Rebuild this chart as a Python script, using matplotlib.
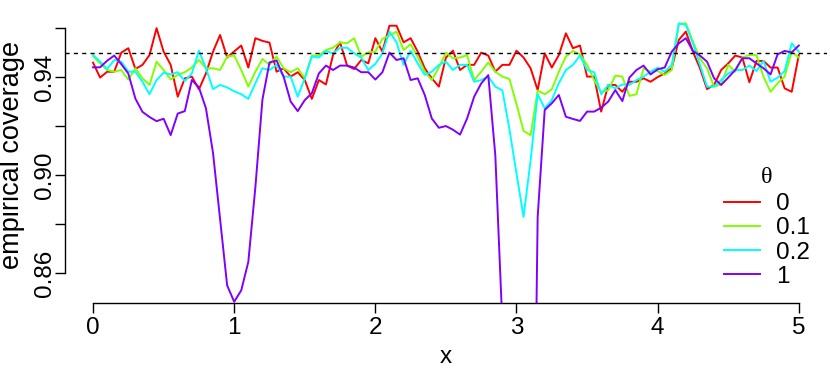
import numpy as np
import matplotlib.pyplot as plt

plt.rcParams['font.family'] = ['Liberation Sans', 'DejaVu Sans']

# dane
x = np.linspace(0, 5, 101)
thetas = ['0', '0.1', '0.2', '1']
kolory = ['#FF0000', '#80FF00', '#00FFFF', '#8000FF']
poziom = 0.95

cov_0 = [0.9459, 0.9398, 0.9422, 0.9422, 0.9500, 0.9518, 0.9433, 0.9450, 0.9490, 0.9600,
         0.9504, 0.9450, 0.9320, 0.9395, 0.9402, 0.9350, 0.9415, 0.9504, 0.9572, 0.9480,
         0.9505, 0.9529, 0.9439, 0.9559, 0.9548, 0.9541, 0.9422, 0.9436, 0.9402, 0.9420,
         0.9388, 0.9311, 0.9388, 0.9370, 0.9490, 0.9542, 0.9447, 0.9433, 0.9470, 0.9456,
         0.9559, 0.9504, 0.9610, 0.9610, 0.9542, 0.9559, 0.9504, 0.9436, 0.9395, 0.9361,
         0.9480, 0.9508, 0.9429, 0.9450, 0.9450, 0.9500, 0.9488, 0.9422, 0.9450, 0.9450,
         0.9508, 0.9480, 0.9436, 0.9347, 0.9497, 0.9439, 0.9490, 0.9579, 0.9518, 0.9529,
         0.9402, 0.9402, 0.9259, 0.9368, 0.9368, 0.9340, 0.9381, 0.9381, 0.9395, 0.9381,
         0.9400, 0.9415, 0.9436, 0.9552, 0.9586, 0.9504, 0.9436, 0.9351, 0.9368, 0.9429,
         0.9456, 0.9488, 0.9480, 0.9379, 0.9466, 0.9466, 0.9439, 0.9439, 0.9354, 0.9340,
         0.9490]

cov_01 = [0.9486, 0.9456, 0.9429, 0.9422, 0.9429, 0.9390, 0.9436, 0.9395, 0.9368, 0.9463,
          0.9429, 0.9390, 0.9409, 0.9420, 0.9439, 0.9470, 0.9436, 0.9436, 0.9429, 0.9484,
          0.9488, 0.9429, 0.9361, 0.9422, 0.9474, 0.9450, 0.9484, 0.9436, 0.9420, 0.9436,
          0.9395, 0.9488, 0.9488, 0.9511, 0.9520, 0.9542, 0.9538, 0.9559, 0.9484, 0.9501,
          0.9504, 0.9556, 0.9570, 0.9586, 0.9511, 0.9534, 0.9484, 0.9422, 0.9388, 0.9439,
          0.9500, 0.9477, 0.9480, 0.9490, 0.9388, 0.9422, 0.9460, 0.9422, 0.9402, 0.9392,
          0.9290, 0.9180, 0.9163, 0.9345, 0.9330, 0.9350, 0.9422, 0.9484, 0.9507, 0.9493,
          0.9450, 0.9388, 0.9338, 0.9347, 0.9406, 0.9402, 0.9323, 0.9330, 0.9436, 0.9422,
          0.9425, 0.9409, 0.9429, 0.9616, 0.9620, 0.9545, 0.9477, 0.9436, 0.9361, 0.9370,
          0.9450, 0.9422, 0.9480, 0.9490, 0.9490, 0.9402, 0.9340, 0.9375, 0.9402, 0.9504,
          0.9480]

cov_02 = [0.9490, 0.9463, 0.9433, 0.9470, 0.9463, 0.9422, 0.9422, 0.9381, 0.9330, 0.9388,
          0.9418, 0.9411, 0.9420, 0.9384, 0.9415, 0.9508, 0.9436, 0.9351, 0.9368, 0.9358,
          0.9342, 0.9330, 0.9311, 0.9375, 0.9436, 0.9429, 0.9450, 0.9402, 0.9402, 0.9320,
          0.9395, 0.9484, 0.9480, 0.9507, 0.9497, 0.9520, 0.9520, 0.9497, 0.9480, 0.9429,
          0.9454, 0.9497, 0.9586, 0.9542, 0.9450, 0.9508, 0.9456, 0.9409, 0.9422, 0.9450,
          0.9463, 0.9429, 0.9450, 0.9450, 0.9381, 0.9388, 0.9402, 0.9361, 0.9346, 0.9187,
          0.9006, 0.8829, 0.9060, 0.9330, 0.9272, 0.9306, 0.9375, 0.9429, 0.9450, 0.9488,
          0.9429, 0.9420, 0.9330, 0.9368, 0.9354, 0.9370, 0.9368, 0.9388, 0.9402, 0.9422,
          0.9438, 0.9422, 0.9450, 0.9620, 0.9613, 0.9538, 0.9450, 0.9361, 0.9361, 0.9388,
          0.9415, 0.9429, 0.9429, 0.9447, 0.9425, 0.9466, 0.9381, 0.9398, 0.9425, 0.9538,
          0.9504]

cov_1 = [0.9440, 0.9440, 0.9467, 0.9488, 0.9453, 0.9414, 0.9312, 0.9258, 0.9237, 0.9220,
         0.9230, 0.9163, 0.9251, 0.9261, 0.9388, 0.9358, 0.9272, 0.9090, 0.8820, 0.8549,
         0.8482, 0.8529, 0.8645, 0.8950, 0.9308, 0.9460, 0.9468, 0.9402, 0.9300, 0.9261,
         0.9306, 0.9334, 0.9415, 0.9447, 0.9429, 0.9447, 0.9447, 0.9439, 0.9420, 0.9420,
         0.9390, 0.9420, 0.9500, 0.9470, 0.9477, 0.9388, 0.9395, 0.9327, 0.9231, 0.9193,
         0.9200, 0.9185, 0.9165, 0.9231, 0.9320, 0.9374, 0.9408, 0.9080, 0.8390, 0.7600,
         0.7200, 0.7000, 0.6630, 0.8829, 0.9266, 0.9293, 0.9327, 0.9238, 0.9229, 0.9221,
         0.9259, 0.9259, 0.9275, 0.9300, 0.9347, 0.9302, 0.9398, 0.9429, 0.9447, 0.9411,
         0.9432, 0.9439, 0.9504, 0.9538, 0.9559, 0.9507, 0.9488, 0.9463, 0.9395, 0.9368,
         0.9398, 0.9429, 0.9477, 0.9477, 0.9456, 0.9436, 0.9411, 0.9493, 0.9507, 0.9501,
         0.9529]

serie = [cov_0, cov_01, cov_02, cov_1]

yticks = [0.86, 0.88, 0.90, 0.92, 0.94, 0.96]
ytick_labels = ['0.86', '', '0.90', '', '0.94', '']
xticks = [0, 1, 2, 3, 4, 5]

fs = 17.5

fig = plt.figure(figsize=(8.3, 3.68), dpi=100)
ax = fig.add_axes([0.0781, 0.1766, 0.9183, 0.7755])

for y, kol, lab in zip(serie, kolory, thetas):
    ax.plot(x, y, color=kol, lw=1.4, label=lab)

ax.axhline(poziom, color='black', lw=1.0, dashes=(3, 3))

ax.set_xlim(-0.2, 5.2)
ax.set_ylim(0.8477, 0.9643)

for s in ['top', 'right']:
    ax.spines[s].set_visible(False)
ax.spines['left'].set_bounds(0.86, 0.96)
ax.spines['bottom'].set_bounds(0, 5)
ax.spines['left'].set_linewidth(1.0)
ax.spines['bottom'].set_linewidth(1.0)

ax.set_xticks(xticks)
ax.set_xticklabels([str(v) for v in xticks])
ax.set_yticks(yticks)
ax.set_yticklabels(ytick_labels, rotation=90, va='center')
ax.tick_params(axis='both', direction='out', length=7.2, width=1.0, labelsize=fs)
ax.tick_params(axis='x', pad=3.2)
ax.tick_params(axis='y', pad=-1)

ax.set_xlabel('x', fontsize=fs, labelpad=4.5)
ax.set_ylabel('empirical coverage', fontsize=19.5)
ax.yaxis.set_label_coords(-0.052, 0.52)

leg = ax.legend(loc='upper left', bbox_to_anchor=(0.8727, 0.547),
                bbox_transform=fig.transFigure, frameon=False, fontsize=fs,
                title='θ', title_fontproperties={'family': 'Liberation Serif', 'size': fs},
                handlelength=1.47, handletextpad=0.65, labelspacing=0.09,
                borderpad=0, borderaxespad=0)
leg._legend_box.sep = 4

fig.savefig('out.png', dpi=100)
